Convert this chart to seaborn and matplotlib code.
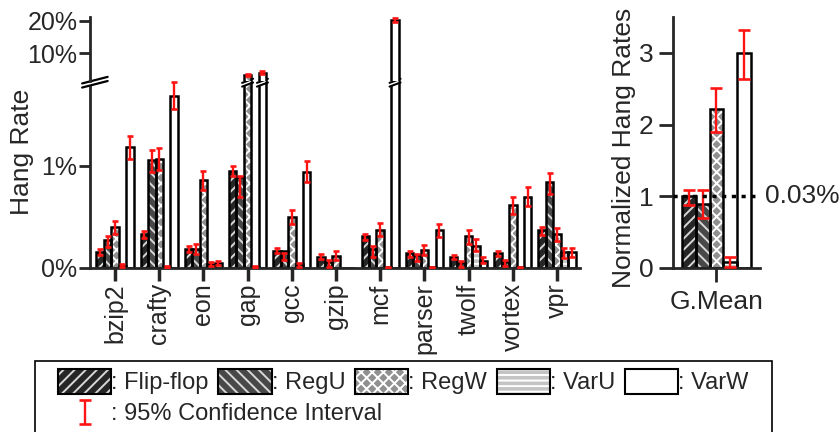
import numpy as np
import pandas as pd
import matplotlib
matplotlib.use("Agg")
import matplotlib.pyplot as plt
import matplotlib.transforms as mtransforms
from matplotlib.patches import Patch, Rectangle
import seaborn as sns

nan = np.nan

benchmarks = ["bzip2", "crafty", "eon", "gap", "gcc", "gzip", "mcf",
              "parser", "twolf", "vortex", "vpr"]
series = ["Flip-flop", "RegU", "RegW", "VarU", "VarW"]

# hang rate (%) and 95% CI bounds per benchmark
flipflop = [0.16, 0.33, 0.19, 0.95, 0.17, 0.11, 0.31, 0.15, 0.11, 0.15, 0.37]
flipflop_lo = [0.13, 0.29, 0.16, 0.90, 0.145, 0.09, 0.27, 0.11, 0.09, 0.12, 0.32]
flipflop_hi = [0.19, 0.36, 0.22, 1.00, 0.195, 0.14, 0.33, 0.17, 0.13, 0.17, 0.40]
regu = [0.27, 1.06, 0.19, 0.89, 0.17, 0.06, 0.19, 0.13, 0.05, 0.06, 0.84]
regu_lo = [0.21, 0.94, 0.14, 0.70, 0.08, 0.01, 0.11, 0.07, 0.01, 0.02, 0.73]
regu_hi = [0.31, 1.16, 0.24, 0.90, 0.15, 0.08, 0.22, 0.14, 0.07, 0.08, 0.93]
regw = [0.40, 1.07, 0.86, 3.2, 0.50, 0.12, 0.37, 0.18, 0.31, 0.62, 0.33]
regw_lo = [0.33, 0.96, 0.76, 2.8, 0.43, 0.08, 0.31, 0.13, 0.24, 0.53, 0.26]
regw_hi = [0.46, 1.18, 0.95, 3.6, 0.57, 0.17, 0.44, 0.23, 0.37, 0.70, 0.39]
varu = [0.02, 0.01, 0.04, 0.01, 0.04, 0.0, 0.005, 0.005, 0.22, 0.005, 0.16]
varu_lo = [0.005, 0.0, 0.02, 0.0, 0.01, nan, 0.0, 0.0, 0.17, 0.0, 0.10]
varu_hi = [0.035, 0.02, 0.06, 0.02, 0.05, nan, 0.01, 0.01, 0.28, 0.01, 0.20]
varw = [1.19, 1.69, 0.05, 3.9, 0.94, 0.0, 20.2, 0.37, 0.07, 0.70, 0.16]
varw_lo = [1.07, 1.56, 0.03, 3.4, 0.84, nan, 19.6, 0.30, 0.05, 0.61, 0.11]
varw_hi = [1.29, 1.82, 0.07, 4.4, 1.05, nan, 20.8, 0.43, 0.11, 0.79, 0.20]

# geometric mean, normalized to flip-flop (0.03%)
gmean = [1.0, 0.89, 2.22, 0.09, 3.0]
gmean_lo = [0.88, 0.70, 1.90, 0.02, 2.64]
gmean_hi = [1.09, 1.09, 2.51, 0.15, 3.32]

face_colors = ["#262626", "#484848", "#909090", "#c4c4c4", "white"]
hatch_colors = ["#d8d8d8", "#d8d8d8", "white", "white", "white"]
hatches = ["///", "\\\\\\", "xxx", "---", ""]

rates = [flipflop, regu, regw, varu, varw]
lows = [flipflop_lo, regu_lo, regw_lo, varu_lo, varw_lo]
highs = [flipflop_hi, regu_hi, regw_hi, varu_hi, varw_hi]

df = pd.DataFrame({
    "bench": benchmarks * len(series),
    "series": np.repeat(series, len(benchmarks)),
    "rate": np.concatenate(rates),
    "lo": np.concatenate(lows),
    "hi": np.concatenate(highs),
})
df_gm = pd.DataFrame({"bench": ["G.Mean"] * 5, "series": series,
                      "rate": gmean, "lo": gmean_lo, "hi": gmean_hi})

sns.set_style("ticks")
plt.rcParams["font.family"] = ["Liberation Sans", "DejaVu Sans"]
plt.rcParams["hatch.linewidth"] = 1.4

fig = plt.figure(figsize=(8.4, 4.32), dpi=100)
ax_lo = fig.add_axes([0.10714, 0.37963, 0.58333, 0.43287])
ax_hi = fig.add_axes([0.10714, 0.8125, 0.58333, 0.14815])
ax_r = fig.add_axes([0.80119, 0.37963, 0.10357, 0.58102])


def draw_bars(ax, data, order, width):
    sns.barplot(data=data, x="bench", y="rate", hue="series", order=order,
                hue_order=series, palette=dict(zip(series, face_colors)),
                saturation=1, width=width, errorbar=None, legend=False,
                linewidth=0, ax=ax)
    for cont, h, hc in zip(ax.containers, hatches, hatch_colors):
        for bar in cont:
            bar.set_hatch(h)
            bar.set_edgecolor(hc)
            bar.set_linewidth(0)
    sns.barplot(data=data, x="bench", y="rate", hue="series", order=order,
                hue_order=series, palette=["black"] * 5, fill=False,
                width=width, errorbar=None, legend=False, linewidth=1.8, ax=ax)
    ax.set_xlabel("")
    ax.set_ylabel("")


def draw_ci(ax, data, keep, capsize):
    err = None
    for cont, name in zip(ax.containers[:5], series):
        sub = data[data["series"] == name]
        xs = np.array([b.get_x() + b.get_width() / 2 for b in cont])
        m = keep(sub["rate"].values) & sub["lo"].notna().values
        if not m.any():
            continue
        lo = sub["lo"].values[m]
        hi = sub["hi"].values[m]
        mid = (lo + hi) / 2
        err = ax.errorbar(xs[m], mid, yerr=(hi - lo) / 2, fmt="none",
                          ecolor="#ff1414", elinewidth=1.7, capsize=capsize,
                          capthick=1.9, zorder=4)
    return err


lo_top = 1.833
draw_bars(ax_lo, df, benchmarks, 0.84)
draw_bars(ax_hi, df, benchmarks, 0.84)
# upper segment only shows the bars that cross the break
for cont in ax_hi.containers:
    for bar in cont:
        if bar.get_height() < lo_top:
            bar.set_visible(False)
draw_ci(ax_lo, df, lambda v: v < lo_top, 2.2)
draw_ci(ax_hi, df, lambda v: v >= lo_top, 2.2)

for ax in (ax_lo, ax_hi):
    ax.set_xlim(-0.566, 10.52)
    sns.despine(ax=ax)
    ax.spines["left"].set_linewidth(2)
    ax.spines["bottom"].set_linewidth(2)

ax_lo.set_ylim(0, lo_top)
ax_lo.set_yticks([0, 1], ["0%", "1%"])
ax_lo.tick_params(axis="y", length=8, width=2, pad=1, labelsize=18)
ax_lo.tick_params(axis="x", length=9, width=2.5, pad=2, labelsize=18,
                  labelrotation=90)

ax_hi.set_ylim(1.33, 21.15)
ax_hi.set_yticks([10, 20], ["10%", "20%"])
ax_hi.tick_params(axis="y", length=8, width=2, pad=1, labelsize=18)
ax_hi.tick_params(axis="x", bottom=False, labelbottom=False)
ax_hi.spines["bottom"].set_visible(False)
ax_hi.patch.set_alpha(0)

ax_lo.set_ylabel("Hang Rate", fontsize=19)
ax_lo.yaxis.set_label_coords(-0.114, 0.62)

# axis break on the spine
tr = ax_lo.transAxes
ax_lo.fill([-0.016, 0.036, 0.036, -0.016], [0.985, 1.02, 1.0, 0.965],
           color="white", transform=tr, clip_on=False, zorder=6)
for off in (0.0, 0.022):
    ax_lo.plot([-0.016, 0.036], [0.965 + off, 1.0 + off], color="black",
               lw=1.6, transform=tr, clip_on=False, zorder=7)

# axis break on the tall bars
btr = mtransforms.blended_transform_factory(ax_lo.transData, ax_lo.transAxes)
for cont in ax_lo.containers[:5]:
    for bar in cont:
        if bar.get_height() > lo_top:
            x0 = bar.get_x() - 0.04
            x1 = bar.get_x() + bar.get_width() + 0.04
            ax_lo.fill([x0, x1, x1, x0], [0.99, 1.03, 1.01, 0.97],
                       color="white", transform=btr, clip_on=False, zorder=6)
            for off in (0.0, 0.02):
                ax_lo.plot([x0, x1], [0.97 + off, 0.99 + off + 0.002],
                           color="black", lw=1.5, transform=btr,
                           clip_on=False, zorder=7)

# right panel: normalized geometric mean
draw_bars(ax_r, df_gm, ["G.Mean"], 0.79)
ci_handle = draw_ci(ax_r, df_gm, lambda v: v >= 0, 4)
ax_r.set_xlim(-0.5, 0.5)
ax_r.set_ylim(0, 3.5)
sns.despine(ax=ax_r)
ax_r.spines["left"].set_linewidth(2)
ax_r.spines["bottom"].set_linewidth(2)
ax_r.set_yticks([0, 1, 2, 3])
ax_r.tick_params(axis="y", length=10, width=2, pad=4, labelsize=19)
ax_r.tick_params(axis="x", length=10, width=2, pad=6, labelsize=19)
ax_r.set_ylabel("Normalized Hang Rates", fontsize=19)
ax_r.yaxis.set_label_coords(-0.43, 0.48)
ax_r.axhline(1, color="black", lw=2.5, ls=(0, (1.2, 1.6)), zorder=5)
ax_r.text(1.06, 1, "0.03%", fontsize=19, va="center", ha="left",
          transform=mtransforms.blended_transform_factory(ax_r.transAxes,
                                                          ax_r.transData))

# legend
handles = []
for f, h, hc in zip(face_colors, hatches, hatch_colors):
    handles.append((Patch(facecolor=f, edgecolor=hc, hatch=h, linewidth=0),
                    Patch(facecolor="none", edgecolor="black", linewidth=1.5)))
fig.legend(handles, [": " + s for s in series], loc="upper left",
           bbox_to_anchor=(58 / 840, 1 - 369 / 432), ncol=5, frameon=False,
           handlelength=2.25, handleheight=1.25, handletextpad=0.0,
           columnspacing=0.42, fontsize=17, borderpad=0, borderaxespad=0)
fig.legend([ci_handle], [": 95% Confidence Interval"], loc="upper left",
           bbox_to_anchor=(58 / 840, 1 - 403 / 432), frameon=False,
           handlelength=2.25, handletextpad=0.0, fontsize=17,
           borderpad=0, borderaxespad=0)
fig.add_artist(Rectangle((35 / 840, -0.2), (772 - 35) / 840, 0.2 + 1 - 361 / 432,
                         transform=fig.transFigure, fill=False,
                         edgecolor="black", linewidth=1.2))

fig.savefig("out.png", dpi=100)
